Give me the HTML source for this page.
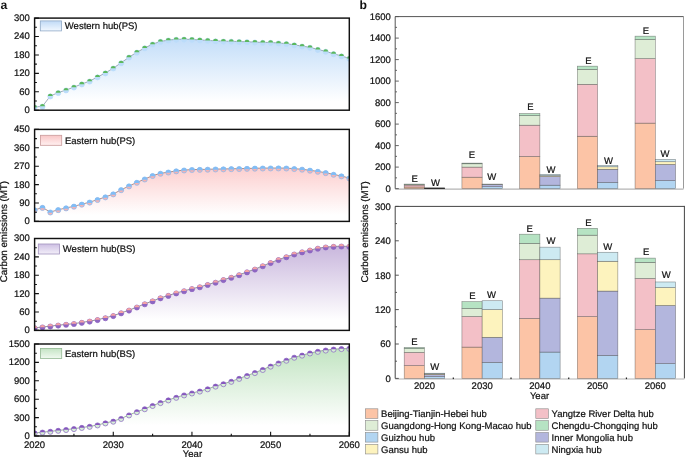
<!DOCTYPE html>
<html><head><meta charset="utf-8"><title>Carbon emissions</title>
<style>
html,body{margin:0;padding:0;background:#fff;}
body{width:685px;height:457px;overflow:hidden;font-family:"Liberation Sans", sans-serif;}
svg{display:block;will-change:transform;}
text{stroke:#111;stroke-width:0.22px;}
</style></head><body>
<svg width="685" height="457" viewBox="0 0 685 457" font-family='"Liberation Sans", sans-serif' font-size="9.5" fill="#111" text-rendering="geometricPrecision"><defs><linearGradient id="g0" gradientUnits="userSpaceOnUse" x1="0" y1="39.19" x2="0" y2="110.20"><stop offset="0" stop-color="#c4def9"/><stop offset="0.88" stop-color="#ffffff"/></linearGradient><linearGradient id="s0" x1="0" y1="0" x2="0" y2="1"><stop offset="0" stop-color="#c0daf6"/><stop offset="1" stop-color="#f2f8ff"/></linearGradient><clipPath id="c0"><rect x="34.6" y="18.1" width="314.7" height="92.1"/></clipPath><linearGradient id="g1" gradientUnits="userSpaceOnUse" x1="0" y1="168.04" x2="0" y2="221.40"><stop offset="0" stop-color="#fccfcf"/><stop offset="0.88" stop-color="#ffffff"/></linearGradient><linearGradient id="s1" x1="0" y1="0" x2="0" y2="1"><stop offset="0" stop-color="#f9c6c6"/><stop offset="1" stop-color="#fff0f0"/></linearGradient><clipPath id="c1"><rect x="34.6" y="129.4" width="314.7" height="92.0"/></clipPath><linearGradient id="g2" gradientUnits="userSpaceOnUse" x1="0" y1="246.16" x2="0" y2="330.40"><stop offset="0" stop-color="#c9b7dd"/><stop offset="0.88" stop-color="#ffffff"/></linearGradient><linearGradient id="s2" x1="0" y1="0" x2="0" y2="1"><stop offset="0" stop-color="#cdbfe3"/><stop offset="1" stop-color="#f3eff9"/></linearGradient><clipPath id="c2"><rect x="34.6" y="238.5" width="314.7" height="91.89999999999998"/></clipPath><linearGradient id="g3" gradientUnits="userSpaceOnUse" x1="0" y1="348.48" x2="0" y2="436.00"><stop offset="0" stop-color="#c2e4c2"/><stop offset="0.88" stop-color="#ffffff"/></linearGradient><linearGradient id="s3" x1="0" y1="0" x2="0" y2="1"><stop offset="0" stop-color="#c4e4c4"/><stop offset="1" stop-color="#f0f9f0"/></linearGradient><clipPath id="c3"><rect x="34.6" y="344.0" width="314.7" height="92.0"/></clipPath></defs><path d="M34.60,110.20 L34.60,107.13 L42.47,106.24 L50.34,96.02 L58.20,92.64 L66.07,90.03 L73.94,87.11 L81.81,84.04 L89.67,81.13 L97.54,76.98 L105.41,72.99 L113.28,68.08 L121.14,62.86 L129.01,57.15 L136.88,52.24 L144.75,47.94 L152.61,44.07 L160.48,41.49 L168.35,40.08 L176.21,39.34 L184.08,39.19 L191.95,39.47 L199.82,39.96 L207.68,40.39 L215.55,40.88 L223.42,41.19 L231.29,41.28 L239.16,41.59 L247.02,41.80 L254.89,42.11 L262.76,42.41 L270.62,42.48 L278.49,43.03 L286.36,43.64 L294.23,44.87 L302.10,46.10 L309.96,47.33 L317.83,49.48 L325.70,51.32 L333.57,53.77 L341.43,55.92 L349.30,58.38 L349.30,110.20 Z" fill="url(#g0)" clip-path="url(#c0)"/>
<path d="M34.60,107.13 L42.47,106.24 L50.34,96.02 L58.20,92.64 L66.07,90.03 L73.94,87.11 L81.81,84.04 L89.67,81.13 L97.54,76.98 L105.41,72.99 L113.28,68.08 L121.14,62.86 L129.01,57.15 L136.88,52.24 L144.75,47.94 L152.61,44.07 L160.48,41.49 L168.35,40.08 L176.21,39.34 L184.08,39.19 L191.95,39.47 L199.82,39.96 L207.68,40.39 L215.55,40.88 L223.42,41.19 L231.29,41.28 L239.16,41.59 L247.02,41.80 L254.89,42.11 L262.76,42.41 L270.62,42.48 L278.49,43.03 L286.36,43.64 L294.23,44.87 L302.10,46.10 L309.96,47.33 L317.83,49.48 L325.70,51.32 L333.57,53.77 L341.43,55.92 L349.30,58.38" fill="none" stroke="#94a2b2" stroke-width="0.9" clip-path="url(#c0)"/>
<g clip-path="url(#c0)"><circle cx="34.60" cy="107.53" r="2.55" fill="#bcdcfa" stroke="#bcdcfa" stroke-width="0.7"/><path d="M32.07,107.23 A2.55,2.55 0 0 1 37.13,107.23 Z" fill="#5cb85c"/><circle cx="42.47" cy="106.64" r="2.55" fill="#bcdcfa" stroke="#bcdcfa" stroke-width="0.7"/><path d="M39.94,106.34 A2.55,2.55 0 0 1 45.00,106.34 Z" fill="#5cb85c"/><circle cx="50.34" cy="96.42" r="2.55" fill="#bcdcfa" stroke="#bcdcfa" stroke-width="0.7"/><path d="M47.80,96.12 A2.55,2.55 0 0 1 52.87,96.12 Z" fill="#5cb85c"/><circle cx="58.20" cy="93.04" r="2.55" fill="#bcdcfa" stroke="#bcdcfa" stroke-width="0.7"/><path d="M55.67,92.74 A2.55,2.55 0 0 1 60.73,92.74 Z" fill="#5cb85c"/><circle cx="66.07" cy="90.43" r="2.55" fill="#bcdcfa" stroke="#bcdcfa" stroke-width="0.7"/><path d="M63.54,90.13 A2.55,2.55 0 0 1 68.60,90.13 Z" fill="#5cb85c"/><circle cx="73.94" cy="87.51" r="2.55" fill="#bcdcfa" stroke="#bcdcfa" stroke-width="0.7"/><path d="M71.41,87.21 A2.55,2.55 0 0 1 76.47,87.21 Z" fill="#5cb85c"/><circle cx="81.81" cy="84.44" r="2.55" fill="#bcdcfa" stroke="#bcdcfa" stroke-width="0.7"/><path d="M79.27,84.14 A2.55,2.55 0 0 1 84.34,84.14 Z" fill="#5cb85c"/><circle cx="89.67" cy="81.53" r="2.55" fill="#bcdcfa" stroke="#bcdcfa" stroke-width="0.7"/><path d="M87.14,81.23 A2.55,2.55 0 0 1 92.20,81.23 Z" fill="#5cb85c"/><circle cx="97.54" cy="77.38" r="2.55" fill="#bcdcfa" stroke="#bcdcfa" stroke-width="0.7"/><path d="M95.01,77.08 A2.55,2.55 0 0 1 100.07,77.08 Z" fill="#5cb85c"/><circle cx="105.41" cy="73.39" r="2.55" fill="#bcdcfa" stroke="#bcdcfa" stroke-width="0.7"/><path d="M102.88,73.09 A2.55,2.55 0 0 1 107.94,73.09 Z" fill="#5cb85c"/><circle cx="113.28" cy="68.48" r="2.55" fill="#bcdcfa" stroke="#bcdcfa" stroke-width="0.7"/><path d="M110.74,68.18 A2.55,2.55 0 0 1 115.81,68.18 Z" fill="#5cb85c"/><circle cx="121.14" cy="63.26" r="2.55" fill="#bcdcfa" stroke="#bcdcfa" stroke-width="0.7"/><path d="M118.61,62.96 A2.55,2.55 0 0 1 123.67,62.96 Z" fill="#5cb85c"/><circle cx="129.01" cy="57.55" r="2.55" fill="#bcdcfa" stroke="#bcdcfa" stroke-width="0.7"/><path d="M126.48,57.25 A2.55,2.55 0 0 1 131.54,57.25 Z" fill="#5cb85c"/><circle cx="136.88" cy="52.64" r="2.55" fill="#bcdcfa" stroke="#bcdcfa" stroke-width="0.7"/><path d="M134.35,52.34 A2.55,2.55 0 0 1 139.41,52.34 Z" fill="#5cb85c"/><circle cx="144.75" cy="48.34" r="2.55" fill="#bcdcfa" stroke="#bcdcfa" stroke-width="0.7"/><path d="M142.21,48.04 A2.55,2.55 0 0 1 147.28,48.04 Z" fill="#5cb85c"/><circle cx="152.61" cy="44.47" r="2.55" fill="#bcdcfa" stroke="#bcdcfa" stroke-width="0.7"/><path d="M150.08,44.17 A2.55,2.55 0 0 1 155.14,44.17 Z" fill="#5cb85c"/><circle cx="160.48" cy="41.89" r="2.55" fill="#bcdcfa" stroke="#bcdcfa" stroke-width="0.7"/><path d="M157.95,41.59 A2.55,2.55 0 0 1 163.01,41.59 Z" fill="#5cb85c"/><circle cx="168.35" cy="40.48" r="2.55" fill="#bcdcfa" stroke="#bcdcfa" stroke-width="0.7"/><path d="M165.82,40.18 A2.55,2.55 0 0 1 170.88,40.18 Z" fill="#5cb85c"/><circle cx="176.21" cy="39.74" r="2.55" fill="#bcdcfa" stroke="#bcdcfa" stroke-width="0.7"/><path d="M173.68,39.44 A2.55,2.55 0 0 1 178.75,39.44 Z" fill="#5cb85c"/><circle cx="184.08" cy="39.59" r="2.55" fill="#bcdcfa" stroke="#bcdcfa" stroke-width="0.7"/><path d="M181.55,39.29 A2.55,2.55 0 0 1 186.61,39.29 Z" fill="#5cb85c"/><circle cx="191.95" cy="39.87" r="2.55" fill="#bcdcfa" stroke="#bcdcfa" stroke-width="0.7"/><path d="M189.42,39.57 A2.55,2.55 0 0 1 194.48,39.57 Z" fill="#5cb85c"/><circle cx="199.82" cy="40.36" r="2.55" fill="#bcdcfa" stroke="#bcdcfa" stroke-width="0.7"/><path d="M197.29,40.06 A2.55,2.55 0 0 1 202.35,40.06 Z" fill="#5cb85c"/><circle cx="207.68" cy="40.79" r="2.55" fill="#bcdcfa" stroke="#bcdcfa" stroke-width="0.7"/><path d="M205.15,40.49 A2.55,2.55 0 0 1 210.22,40.49 Z" fill="#5cb85c"/><circle cx="215.55" cy="41.28" r="2.55" fill="#bcdcfa" stroke="#bcdcfa" stroke-width="0.7"/><path d="M213.02,40.98 A2.55,2.55 0 0 1 218.08,40.98 Z" fill="#5cb85c"/><circle cx="223.42" cy="41.59" r="2.55" fill="#bcdcfa" stroke="#bcdcfa" stroke-width="0.7"/><path d="M220.89,41.29 A2.55,2.55 0 0 1 225.95,41.29 Z" fill="#5cb85c"/><circle cx="231.29" cy="41.68" r="2.55" fill="#bcdcfa" stroke="#bcdcfa" stroke-width="0.7"/><path d="M228.76,41.38 A2.55,2.55 0 0 1 233.82,41.38 Z" fill="#5cb85c"/><circle cx="239.16" cy="41.99" r="2.55" fill="#bcdcfa" stroke="#bcdcfa" stroke-width="0.7"/><path d="M236.62,41.69 A2.55,2.55 0 0 1 241.69,41.69 Z" fill="#5cb85c"/><circle cx="247.02" cy="42.20" r="2.55" fill="#bcdcfa" stroke="#bcdcfa" stroke-width="0.7"/><path d="M244.49,41.90 A2.55,2.55 0 0 1 249.55,41.90 Z" fill="#5cb85c"/><circle cx="254.89" cy="42.51" r="2.55" fill="#bcdcfa" stroke="#bcdcfa" stroke-width="0.7"/><path d="M252.36,42.21 A2.55,2.55 0 0 1 257.42,42.21 Z" fill="#5cb85c"/><circle cx="262.76" cy="42.81" r="2.55" fill="#bcdcfa" stroke="#bcdcfa" stroke-width="0.7"/><path d="M260.23,42.51 A2.55,2.55 0 0 1 265.29,42.51 Z" fill="#5cb85c"/><circle cx="270.62" cy="42.88" r="2.55" fill="#bcdcfa" stroke="#bcdcfa" stroke-width="0.7"/><path d="M268.09,42.58 A2.55,2.55 0 0 1 273.16,42.58 Z" fill="#5cb85c"/><circle cx="278.49" cy="43.43" r="2.55" fill="#bcdcfa" stroke="#bcdcfa" stroke-width="0.7"/><path d="M275.96,43.13 A2.55,2.55 0 0 1 281.02,43.13 Z" fill="#5cb85c"/><circle cx="286.36" cy="44.04" r="2.55" fill="#bcdcfa" stroke="#bcdcfa" stroke-width="0.7"/><path d="M283.83,43.74 A2.55,2.55 0 0 1 288.89,43.74 Z" fill="#5cb85c"/><circle cx="294.23" cy="45.27" r="2.55" fill="#bcdcfa" stroke="#bcdcfa" stroke-width="0.7"/><path d="M291.70,44.97 A2.55,2.55 0 0 1 296.76,44.97 Z" fill="#5cb85c"/><circle cx="302.10" cy="46.50" r="2.55" fill="#bcdcfa" stroke="#bcdcfa" stroke-width="0.7"/><path d="M299.56,46.20 A2.55,2.55 0 0 1 304.63,46.20 Z" fill="#5cb85c"/><circle cx="309.96" cy="47.73" r="2.55" fill="#bcdcfa" stroke="#bcdcfa" stroke-width="0.7"/><path d="M307.43,47.43 A2.55,2.55 0 0 1 312.49,47.43 Z" fill="#5cb85c"/><circle cx="317.83" cy="49.88" r="2.55" fill="#bcdcfa" stroke="#bcdcfa" stroke-width="0.7"/><path d="M315.30,49.58 A2.55,2.55 0 0 1 320.36,49.58 Z" fill="#5cb85c"/><circle cx="325.70" cy="51.72" r="2.55" fill="#bcdcfa" stroke="#bcdcfa" stroke-width="0.7"/><path d="M323.17,51.42 A2.55,2.55 0 0 1 328.23,51.42 Z" fill="#5cb85c"/><circle cx="333.57" cy="54.17" r="2.55" fill="#bcdcfa" stroke="#bcdcfa" stroke-width="0.7"/><path d="M331.03,53.87 A2.55,2.55 0 0 1 336.10,53.87 Z" fill="#5cb85c"/><circle cx="341.43" cy="56.32" r="2.55" fill="#bcdcfa" stroke="#bcdcfa" stroke-width="0.7"/><path d="M338.90,56.02 A2.55,2.55 0 0 1 343.96,56.02 Z" fill="#5cb85c"/><circle cx="349.30" cy="58.78" r="2.55" fill="#bcdcfa" stroke="#bcdcfa" stroke-width="0.7"/><path d="M346.77,58.48 A2.55,2.55 0 0 1 351.83,58.48 Z" fill="#5cb85c"/></g>
<rect x="34.6" y="18.1" width="314.7" height="92.1" fill="none" stroke="#111" stroke-width="1.45"/>
<text x="29.80" y="113.10" text-anchor="end">0</text>
<text x="29.80" y="94.68" text-anchor="end">60</text>
<text x="29.80" y="76.26" text-anchor="end">120</text>
<text x="29.80" y="57.84" text-anchor="end">180</text>
<text x="29.80" y="39.42" text-anchor="end">240</text>
<text x="29.80" y="21.00" text-anchor="end">300</text>
<path d="M34.60,110.20h4.3 M34.60,100.99h2.3 M34.60,91.78h4.3 M34.60,82.57h2.3 M34.60,73.36h4.3 M34.60,64.15h2.3 M34.60,54.94h4.3 M34.60,45.73h2.3 M34.60,36.52h4.3 M34.60,27.31h2.3 M34.60,18.10h4.3" stroke="#111" stroke-width="1.1" fill="none"/>
<rect x="40.30" y="20.90" width="21.2" height="10.0" fill="url(#s0)" stroke="#8fa9c6" stroke-width="0.8"/>
<text x="64.80" y="29.30">Western hub(PS)</text>
<path d="M34.60,221.40 L34.60,209.95 L42.47,207.50 L50.34,212.10 L58.20,209.75 L66.07,207.99 L73.94,206.27 L81.81,204.23 L89.67,202.18 L97.54,199.61 L105.41,196.97 L113.28,194.00 L121.14,189.79 L129.01,186.03 L136.88,182.41 L144.75,179.08 L152.61,175.60 L160.48,173.36 L168.35,172.13 L176.21,170.98 L184.08,170.08 L191.95,169.59 L199.82,169.47 L207.68,169.27 L215.55,169.06 L223.42,168.96 L231.29,168.76 L239.16,168.65 L247.02,168.45 L254.89,168.24 L262.76,168.12 L270.62,168.04 L278.49,168.04 L286.36,168.12 L294.23,168.65 L302.10,169.27 L309.96,170.29 L317.83,171.39 L325.70,172.74 L333.57,174.38 L341.43,176.01 L349.30,178.06 L349.30,221.40 Z" fill="url(#g1)" clip-path="url(#c1)"/>
<path d="M34.60,209.95 L42.47,207.50 L50.34,212.10 L58.20,209.75 L66.07,207.99 L73.94,206.27 L81.81,204.23 L89.67,202.18 L97.54,199.61 L105.41,196.97 L113.28,194.00 L121.14,189.79 L129.01,186.03 L136.88,182.41 L144.75,179.08 L152.61,175.60 L160.48,173.36 L168.35,172.13 L176.21,170.98 L184.08,170.08 L191.95,169.59 L199.82,169.47 L207.68,169.27 L215.55,169.06 L223.42,168.96 L231.29,168.76 L239.16,168.65 L247.02,168.45 L254.89,168.24 L262.76,168.12 L270.62,168.04 L278.49,168.04 L286.36,168.12 L294.23,168.65 L302.10,169.27 L309.96,170.29 L317.83,171.39 L325.70,172.74 L333.57,174.38 L341.43,176.01 L349.30,178.06" fill="none" stroke="#a88580" stroke-width="0.9" clip-path="url(#c1)"/>
<g clip-path="url(#c1)"><circle cx="34.60" cy="210.35" r="2.55" fill="#f6b2b2" stroke="#80bdf6" stroke-width="0.7"/><path d="M32.07,210.65 A2.55,2.55 0 1 1 37.13,210.65 Z" fill="#80bdf6"/><circle cx="42.47" cy="207.90" r="2.55" fill="#f6b2b2" stroke="#80bdf6" stroke-width="0.7"/><path d="M39.94,208.20 A2.55,2.55 0 1 1 45.00,208.20 Z" fill="#80bdf6"/><circle cx="50.34" cy="212.50" r="2.55" fill="#f6b2b2" stroke="#80bdf6" stroke-width="0.7"/><path d="M47.80,212.80 A2.55,2.55 0 1 1 52.87,212.80 Z" fill="#80bdf6"/><circle cx="58.20" cy="210.15" r="2.55" fill="#f6b2b2" stroke="#80bdf6" stroke-width="0.7"/><path d="M55.67,210.45 A2.55,2.55 0 1 1 60.73,210.45 Z" fill="#80bdf6"/><circle cx="66.07" cy="208.39" r="2.55" fill="#f6b2b2" stroke="#80bdf6" stroke-width="0.7"/><path d="M63.54,208.69 A2.55,2.55 0 1 1 68.60,208.69 Z" fill="#80bdf6"/><circle cx="73.94" cy="206.67" r="2.55" fill="#f6b2b2" stroke="#80bdf6" stroke-width="0.7"/><path d="M71.41,206.97 A2.55,2.55 0 1 1 76.47,206.97 Z" fill="#80bdf6"/><circle cx="81.81" cy="204.63" r="2.55" fill="#f6b2b2" stroke="#80bdf6" stroke-width="0.7"/><path d="M79.27,204.93 A2.55,2.55 0 1 1 84.34,204.93 Z" fill="#80bdf6"/><circle cx="89.67" cy="202.58" r="2.55" fill="#f6b2b2" stroke="#80bdf6" stroke-width="0.7"/><path d="M87.14,202.88 A2.55,2.55 0 1 1 92.20,202.88 Z" fill="#80bdf6"/><circle cx="97.54" cy="200.01" r="2.55" fill="#f6b2b2" stroke="#80bdf6" stroke-width="0.7"/><path d="M95.01,200.31 A2.55,2.55 0 1 1 100.07,200.31 Z" fill="#80bdf6"/><circle cx="105.41" cy="197.37" r="2.55" fill="#f6b2b2" stroke="#80bdf6" stroke-width="0.7"/><path d="M102.88,197.67 A2.55,2.55 0 1 1 107.94,197.67 Z" fill="#80bdf6"/><circle cx="113.28" cy="194.40" r="2.55" fill="#f6b2b2" stroke="#80bdf6" stroke-width="0.7"/><path d="M110.74,194.70 A2.55,2.55 0 1 1 115.81,194.70 Z" fill="#80bdf6"/><circle cx="121.14" cy="190.19" r="2.55" fill="#f6b2b2" stroke="#80bdf6" stroke-width="0.7"/><path d="M118.61,190.49 A2.55,2.55 0 1 1 123.67,190.49 Z" fill="#80bdf6"/><circle cx="129.01" cy="186.43" r="2.55" fill="#f6b2b2" stroke="#80bdf6" stroke-width="0.7"/><path d="M126.48,186.73 A2.55,2.55 0 1 1 131.54,186.73 Z" fill="#80bdf6"/><circle cx="136.88" cy="182.81" r="2.55" fill="#f6b2b2" stroke="#80bdf6" stroke-width="0.7"/><path d="M134.35,183.11 A2.55,2.55 0 1 1 139.41,183.11 Z" fill="#80bdf6"/><circle cx="144.75" cy="179.48" r="2.55" fill="#f6b2b2" stroke="#80bdf6" stroke-width="0.7"/><path d="M142.21,179.78 A2.55,2.55 0 1 1 147.28,179.78 Z" fill="#80bdf6"/><circle cx="152.61" cy="176.00" r="2.55" fill="#f6b2b2" stroke="#80bdf6" stroke-width="0.7"/><path d="M150.08,176.30 A2.55,2.55 0 1 1 155.14,176.30 Z" fill="#80bdf6"/><circle cx="160.48" cy="173.76" r="2.55" fill="#f6b2b2" stroke="#80bdf6" stroke-width="0.7"/><path d="M157.95,174.06 A2.55,2.55 0 1 1 163.01,174.06 Z" fill="#80bdf6"/><circle cx="168.35" cy="172.53" r="2.55" fill="#f6b2b2" stroke="#80bdf6" stroke-width="0.7"/><path d="M165.82,172.83 A2.55,2.55 0 1 1 170.88,172.83 Z" fill="#80bdf6"/><circle cx="176.21" cy="171.38" r="2.55" fill="#f6b2b2" stroke="#80bdf6" stroke-width="0.7"/><path d="M173.68,171.68 A2.55,2.55 0 1 1 178.75,171.68 Z" fill="#80bdf6"/><circle cx="184.08" cy="170.48" r="2.55" fill="#f6b2b2" stroke="#80bdf6" stroke-width="0.7"/><path d="M181.55,170.78 A2.55,2.55 0 1 1 186.61,170.78 Z" fill="#80bdf6"/><circle cx="191.95" cy="169.99" r="2.55" fill="#f6b2b2" stroke="#80bdf6" stroke-width="0.7"/><path d="M189.42,170.29 A2.55,2.55 0 1 1 194.48,170.29 Z" fill="#80bdf6"/><circle cx="199.82" cy="169.87" r="2.55" fill="#f6b2b2" stroke="#80bdf6" stroke-width="0.7"/><path d="M197.29,170.17 A2.55,2.55 0 1 1 202.35,170.17 Z" fill="#80bdf6"/><circle cx="207.68" cy="169.67" r="2.55" fill="#f6b2b2" stroke="#80bdf6" stroke-width="0.7"/><path d="M205.15,169.97 A2.55,2.55 0 1 1 210.22,169.97 Z" fill="#80bdf6"/><circle cx="215.55" cy="169.46" r="2.55" fill="#f6b2b2" stroke="#80bdf6" stroke-width="0.7"/><path d="M213.02,169.76 A2.55,2.55 0 1 1 218.08,169.76 Z" fill="#80bdf6"/><circle cx="223.42" cy="169.36" r="2.55" fill="#f6b2b2" stroke="#80bdf6" stroke-width="0.7"/><path d="M220.89,169.66 A2.55,2.55 0 1 1 225.95,169.66 Z" fill="#80bdf6"/><circle cx="231.29" cy="169.16" r="2.55" fill="#f6b2b2" stroke="#80bdf6" stroke-width="0.7"/><path d="M228.76,169.46 A2.55,2.55 0 1 1 233.82,169.46 Z" fill="#80bdf6"/><circle cx="239.16" cy="169.05" r="2.55" fill="#f6b2b2" stroke="#80bdf6" stroke-width="0.7"/><path d="M236.62,169.35 A2.55,2.55 0 1 1 241.69,169.35 Z" fill="#80bdf6"/><circle cx="247.02" cy="168.85" r="2.55" fill="#f6b2b2" stroke="#80bdf6" stroke-width="0.7"/><path d="M244.49,169.15 A2.55,2.55 0 1 1 249.55,169.15 Z" fill="#80bdf6"/><circle cx="254.89" cy="168.64" r="2.55" fill="#f6b2b2" stroke="#80bdf6" stroke-width="0.7"/><path d="M252.36,168.94 A2.55,2.55 0 1 1 257.42,168.94 Z" fill="#80bdf6"/><circle cx="262.76" cy="168.52" r="2.55" fill="#f6b2b2" stroke="#80bdf6" stroke-width="0.7"/><path d="M260.23,168.82 A2.55,2.55 0 1 1 265.29,168.82 Z" fill="#80bdf6"/><circle cx="270.62" cy="168.44" r="2.55" fill="#f6b2b2" stroke="#80bdf6" stroke-width="0.7"/><path d="M268.09,168.74 A2.55,2.55 0 1 1 273.16,168.74 Z" fill="#80bdf6"/><circle cx="278.49" cy="168.44" r="2.55" fill="#f6b2b2" stroke="#80bdf6" stroke-width="0.7"/><path d="M275.96,168.74 A2.55,2.55 0 1 1 281.02,168.74 Z" fill="#80bdf6"/><circle cx="286.36" cy="168.52" r="2.55" fill="#f6b2b2" stroke="#80bdf6" stroke-width="0.7"/><path d="M283.83,168.82 A2.55,2.55 0 1 1 288.89,168.82 Z" fill="#80bdf6"/><circle cx="294.23" cy="169.05" r="2.55" fill="#f6b2b2" stroke="#80bdf6" stroke-width="0.7"/><path d="M291.70,169.35 A2.55,2.55 0 1 1 296.76,169.35 Z" fill="#80bdf6"/><circle cx="302.10" cy="169.67" r="2.55" fill="#f6b2b2" stroke="#80bdf6" stroke-width="0.7"/><path d="M299.56,169.97 A2.55,2.55 0 1 1 304.63,169.97 Z" fill="#80bdf6"/><circle cx="309.96" cy="170.69" r="2.55" fill="#f6b2b2" stroke="#80bdf6" stroke-width="0.7"/><path d="M307.43,170.99 A2.55,2.55 0 1 1 312.49,170.99 Z" fill="#80bdf6"/><circle cx="317.83" cy="171.79" r="2.55" fill="#f6b2b2" stroke="#80bdf6" stroke-width="0.7"/><path d="M315.30,172.09 A2.55,2.55 0 1 1 320.36,172.09 Z" fill="#80bdf6"/><circle cx="325.70" cy="173.14" r="2.55" fill="#f6b2b2" stroke="#80bdf6" stroke-width="0.7"/><path d="M323.17,173.44 A2.55,2.55 0 1 1 328.23,173.44 Z" fill="#80bdf6"/><circle cx="333.57" cy="174.78" r="2.55" fill="#f6b2b2" stroke="#80bdf6" stroke-width="0.7"/><path d="M331.03,175.08 A2.55,2.55 0 1 1 336.10,175.08 Z" fill="#80bdf6"/><circle cx="341.43" cy="176.41" r="2.55" fill="#f6b2b2" stroke="#80bdf6" stroke-width="0.7"/><path d="M338.90,176.71 A2.55,2.55 0 1 1 343.96,176.71 Z" fill="#80bdf6"/><circle cx="349.30" cy="178.46" r="2.55" fill="#f6b2b2" stroke="#80bdf6" stroke-width="0.7"/><path d="M346.77,178.76 A2.55,2.55 0 1 1 351.83,178.76 Z" fill="#80bdf6"/></g>
<rect x="34.6" y="129.4" width="314.7" height="92.0" fill="none" stroke="#111" stroke-width="1.45"/>
<text x="29.80" y="224.30" text-anchor="end">0</text>
<text x="29.80" y="205.90" text-anchor="end">90</text>
<text x="29.80" y="187.50" text-anchor="end">180</text>
<text x="29.80" y="169.10" text-anchor="end">270</text>
<text x="29.80" y="150.70" text-anchor="end">360</text>
<text x="29.80" y="132.30" text-anchor="end">450</text>
<path d="M34.60,221.40h4.3 M34.60,212.20h2.3 M34.60,203.00h4.3 M34.60,193.80h2.3 M34.60,184.60h4.3 M34.60,175.40h2.3 M34.60,166.20h4.3 M34.60,157.00h2.3 M34.60,147.80h4.3 M34.60,138.60h2.3 M34.60,129.40h4.3" stroke="#111" stroke-width="1.1" fill="none"/>
<rect x="40.50" y="135.30" width="21.2" height="10.0" fill="url(#s1)" stroke="#c99b9b" stroke-width="0.8"/>
<text x="65.00" y="143.70">Eastern hub(PS)</text>
<path d="M34.60,330.40 L34.60,327.80 L42.47,327.03 L50.34,326.11 L58.20,325.19 L66.07,324.40 L73.94,323.66 L81.81,322.44 L89.67,321.21 L97.54,319.68 L105.41,317.84 L113.28,315.70 L121.14,312.94 L129.01,310.18 L136.88,307.12 L144.75,303.90 L152.61,300.99 L160.48,297.93 L168.35,295.48 L176.21,293.03 L184.08,290.88 L191.95,288.74 L199.82,286.90 L207.68,284.60 L215.55,282.31 L223.42,279.70 L231.29,277.40 L239.16,274.80 L247.02,271.98 L254.89,269.19 L262.76,265.89 L270.62,262.70 L278.49,259.70 L286.36,256.88 L294.23,254.12 L302.10,251.98 L309.96,250.14 L317.83,248.30 L325.70,247.08 L333.57,246.46 L341.43,246.16 L349.30,246.46 L349.30,330.40 Z" fill="url(#g2)" clip-path="url(#c2)"/>
<path d="M34.60,327.80 L42.47,327.03 L50.34,326.11 L58.20,325.19 L66.07,324.40 L73.94,323.66 L81.81,322.44 L89.67,321.21 L97.54,319.68 L105.41,317.84 L113.28,315.70 L121.14,312.94 L129.01,310.18 L136.88,307.12 L144.75,303.90 L152.61,300.99 L160.48,297.93 L168.35,295.48 L176.21,293.03 L184.08,290.88 L191.95,288.74 L199.82,286.90 L207.68,284.60 L215.55,282.31 L223.42,279.70 L231.29,277.40 L239.16,274.80 L247.02,271.98 L254.89,269.19 L262.76,265.89 L270.62,262.70 L278.49,259.70 L286.36,256.88 L294.23,254.12 L302.10,251.98 L309.96,250.14 L317.83,248.30 L325.70,247.08 L333.57,246.46 L341.43,246.16 L349.30,246.46" fill="none" stroke="#8a8a8a" stroke-width="0.9" clip-path="url(#c2)"/>
<g clip-path="url(#c2)"><circle cx="34.60" cy="328.20" r="2.55" fill="#8e66c2" stroke="#8e66c2" stroke-width="0.7"/><path d="M32.07,327.90 A2.55,2.55 0 0 1 37.13,327.90 Z" fill="#f4a2a4"/><circle cx="42.47" cy="327.43" r="2.55" fill="#8e66c2" stroke="#8e66c2" stroke-width="0.7"/><path d="M39.94,327.13 A2.55,2.55 0 0 1 45.00,327.13 Z" fill="#f4a2a4"/><circle cx="50.34" cy="326.51" r="2.55" fill="#8e66c2" stroke="#8e66c2" stroke-width="0.7"/><path d="M47.80,326.21 A2.55,2.55 0 0 1 52.87,326.21 Z" fill="#f4a2a4"/><circle cx="58.20" cy="325.59" r="2.55" fill="#8e66c2" stroke="#8e66c2" stroke-width="0.7"/><path d="M55.67,325.29 A2.55,2.55 0 0 1 60.73,325.29 Z" fill="#f4a2a4"/><circle cx="66.07" cy="324.80" r="2.55" fill="#8e66c2" stroke="#8e66c2" stroke-width="0.7"/><path d="M63.54,324.50 A2.55,2.55 0 0 1 68.60,324.50 Z" fill="#f4a2a4"/><circle cx="73.94" cy="324.06" r="2.55" fill="#8e66c2" stroke="#8e66c2" stroke-width="0.7"/><path d="M71.41,323.76 A2.55,2.55 0 0 1 76.47,323.76 Z" fill="#f4a2a4"/><circle cx="81.81" cy="322.84" r="2.55" fill="#8e66c2" stroke="#8e66c2" stroke-width="0.7"/><path d="M79.27,322.54 A2.55,2.55 0 0 1 84.34,322.54 Z" fill="#f4a2a4"/><circle cx="89.67" cy="321.61" r="2.55" fill="#8e66c2" stroke="#8e66c2" stroke-width="0.7"/><path d="M87.14,321.31 A2.55,2.55 0 0 1 92.20,321.31 Z" fill="#f4a2a4"/><circle cx="97.54" cy="320.08" r="2.55" fill="#8e66c2" stroke="#8e66c2" stroke-width="0.7"/><path d="M95.01,319.78 A2.55,2.55 0 0 1 100.07,319.78 Z" fill="#f4a2a4"/><circle cx="105.41" cy="318.24" r="2.55" fill="#8e66c2" stroke="#8e66c2" stroke-width="0.7"/><path d="M102.88,317.94 A2.55,2.55 0 0 1 107.94,317.94 Z" fill="#f4a2a4"/><circle cx="113.28" cy="316.10" r="2.55" fill="#8e66c2" stroke="#8e66c2" stroke-width="0.7"/><path d="M110.74,315.80 A2.55,2.55 0 0 1 115.81,315.80 Z" fill="#f4a2a4"/><circle cx="121.14" cy="313.34" r="2.55" fill="#8e66c2" stroke="#8e66c2" stroke-width="0.7"/><path d="M118.61,313.04 A2.55,2.55 0 0 1 123.67,313.04 Z" fill="#f4a2a4"/><circle cx="129.01" cy="310.58" r="2.55" fill="#8e66c2" stroke="#8e66c2" stroke-width="0.7"/><path d="M126.48,310.28 A2.55,2.55 0 0 1 131.54,310.28 Z" fill="#f4a2a4"/><circle cx="136.88" cy="307.52" r="2.55" fill="#8e66c2" stroke="#8e66c2" stroke-width="0.7"/><path d="M134.35,307.22 A2.55,2.55 0 0 1 139.41,307.22 Z" fill="#f4a2a4"/><circle cx="144.75" cy="304.30" r="2.55" fill="#8e66c2" stroke="#8e66c2" stroke-width="0.7"/><path d="M142.21,304.00 A2.55,2.55 0 0 1 147.28,304.00 Z" fill="#f4a2a4"/><circle cx="152.61" cy="301.39" r="2.55" fill="#8e66c2" stroke="#8e66c2" stroke-width="0.7"/><path d="M150.08,301.09 A2.55,2.55 0 0 1 155.14,301.09 Z" fill="#f4a2a4"/><circle cx="160.48" cy="298.33" r="2.55" fill="#8e66c2" stroke="#8e66c2" stroke-width="0.7"/><path d="M157.95,298.03 A2.55,2.55 0 0 1 163.01,298.03 Z" fill="#f4a2a4"/><circle cx="168.35" cy="295.88" r="2.55" fill="#8e66c2" stroke="#8e66c2" stroke-width="0.7"/><path d="M165.82,295.58 A2.55,2.55 0 0 1 170.88,295.58 Z" fill="#f4a2a4"/><circle cx="176.21" cy="293.43" r="2.55" fill="#8e66c2" stroke="#8e66c2" stroke-width="0.7"/><path d="M173.68,293.13 A2.55,2.55 0 0 1 178.75,293.13 Z" fill="#f4a2a4"/><circle cx="184.08" cy="291.28" r="2.55" fill="#8e66c2" stroke="#8e66c2" stroke-width="0.7"/><path d="M181.55,290.98 A2.55,2.55 0 0 1 186.61,290.98 Z" fill="#f4a2a4"/><circle cx="191.95" cy="289.14" r="2.55" fill="#8e66c2" stroke="#8e66c2" stroke-width="0.7"/><path d="M189.42,288.84 A2.55,2.55 0 0 1 194.48,288.84 Z" fill="#f4a2a4"/><circle cx="199.82" cy="287.30" r="2.55" fill="#8e66c2" stroke="#8e66c2" stroke-width="0.7"/><path d="M197.29,287.00 A2.55,2.55 0 0 1 202.35,287.00 Z" fill="#f4a2a4"/><circle cx="207.68" cy="285.00" r="2.55" fill="#8e66c2" stroke="#8e66c2" stroke-width="0.7"/><path d="M205.15,284.70 A2.55,2.55 0 0 1 210.22,284.70 Z" fill="#f4a2a4"/><circle cx="215.55" cy="282.71" r="2.55" fill="#8e66c2" stroke="#8e66c2" stroke-width="0.7"/><path d="M213.02,282.41 A2.55,2.55 0 0 1 218.08,282.41 Z" fill="#f4a2a4"/><circle cx="223.42" cy="280.10" r="2.55" fill="#8e66c2" stroke="#8e66c2" stroke-width="0.7"/><path d="M220.89,279.80 A2.55,2.55 0 0 1 225.95,279.80 Z" fill="#f4a2a4"/><circle cx="231.29" cy="277.80" r="2.55" fill="#8e66c2" stroke="#8e66c2" stroke-width="0.7"/><path d="M228.76,277.50 A2.55,2.55 0 0 1 233.82,277.50 Z" fill="#f4a2a4"/><circle cx="239.16" cy="275.20" r="2.55" fill="#8e66c2" stroke="#8e66c2" stroke-width="0.7"/><path d="M236.62,274.90 A2.55,2.55 0 0 1 241.69,274.90 Z" fill="#f4a2a4"/><circle cx="247.02" cy="272.38" r="2.55" fill="#8e66c2" stroke="#8e66c2" stroke-width="0.7"/><path d="M244.49,272.08 A2.55,2.55 0 0 1 249.55,272.08 Z" fill="#f4a2a4"/><circle cx="254.89" cy="269.59" r="2.55" fill="#8e66c2" stroke="#8e66c2" stroke-width="0.7"/><path d="M252.36,269.29 A2.55,2.55 0 0 1 257.42,269.29 Z" fill="#f4a2a4"/><circle cx="262.76" cy="266.29" r="2.55" fill="#8e66c2" stroke="#8e66c2" stroke-width="0.7"/><path d="M260.23,265.99 A2.55,2.55 0 0 1 265.29,265.99 Z" fill="#f4a2a4"/><circle cx="270.62" cy="263.10" r="2.55" fill="#8e66c2" stroke="#8e66c2" stroke-width="0.7"/><path d="M268.09,262.80 A2.55,2.55 0 0 1 273.16,262.80 Z" fill="#f4a2a4"/><circle cx="278.49" cy="260.10" r="2.55" fill="#8e66c2" stroke="#8e66c2" stroke-width="0.7"/><path d="M275.96,259.80 A2.55,2.55 0 0 1 281.02,259.80 Z" fill="#f4a2a4"/><circle cx="286.36" cy="257.28" r="2.55" fill="#8e66c2" stroke="#8e66c2" stroke-width="0.7"/><path d="M283.83,256.98 A2.55,2.55 0 0 1 288.89,256.98 Z" fill="#f4a2a4"/><circle cx="294.23" cy="254.52" r="2.55" fill="#8e66c2" stroke="#8e66c2" stroke-width="0.7"/><path d="M291.70,254.22 A2.55,2.55 0 0 1 296.76,254.22 Z" fill="#f4a2a4"/><circle cx="302.10" cy="252.38" r="2.55" fill="#8e66c2" stroke="#8e66c2" stroke-width="0.7"/><path d="M299.56,252.08 A2.55,2.55 0 0 1 304.63,252.08 Z" fill="#f4a2a4"/><circle cx="309.96" cy="250.54" r="2.55" fill="#8e66c2" stroke="#8e66c2" stroke-width="0.7"/><path d="M307.43,250.24 A2.55,2.55 0 0 1 312.49,250.24 Z" fill="#f4a2a4"/><circle cx="317.83" cy="248.70" r="2.55" fill="#8e66c2" stroke="#8e66c2" stroke-width="0.7"/><path d="M315.30,248.40 A2.55,2.55 0 0 1 320.36,248.40 Z" fill="#f4a2a4"/><circle cx="325.70" cy="247.48" r="2.55" fill="#8e66c2" stroke="#8e66c2" stroke-width="0.7"/><path d="M323.17,247.18 A2.55,2.55 0 0 1 328.23,247.18 Z" fill="#f4a2a4"/><circle cx="333.57" cy="246.86" r="2.55" fill="#8e66c2" stroke="#8e66c2" stroke-width="0.7"/><path d="M331.03,246.56 A2.55,2.55 0 0 1 336.10,246.56 Z" fill="#f4a2a4"/><circle cx="341.43" cy="246.56" r="2.55" fill="#8e66c2" stroke="#8e66c2" stroke-width="0.7"/><path d="M338.90,246.26 A2.55,2.55 0 0 1 343.96,246.26 Z" fill="#f4a2a4"/><circle cx="349.30" cy="246.86" r="2.55" fill="#8e66c2" stroke="#8e66c2" stroke-width="0.7"/><path d="M346.77,246.56 A2.55,2.55 0 0 1 351.83,246.56 Z" fill="#f4a2a4"/></g>
<rect x="34.6" y="238.5" width="314.7" height="91.89999999999998" fill="none" stroke="#111" stroke-width="1.45"/>
<text x="29.80" y="333.30" text-anchor="end">0</text>
<text x="29.80" y="314.92" text-anchor="end">60</text>
<text x="29.80" y="296.54" text-anchor="end">120</text>
<text x="29.80" y="278.16" text-anchor="end">180</text>
<text x="29.80" y="259.78" text-anchor="end">240</text>
<text x="29.80" y="241.40" text-anchor="end">300</text>
<path d="M34.60,330.40h4.3 M34.60,321.21h2.3 M34.60,312.02h4.3 M34.60,302.83h2.3 M34.60,293.64h4.3 M34.60,284.45h2.3 M34.60,275.26h4.3 M34.60,266.07h2.3 M34.60,256.88h4.3 M34.60,247.69h2.3 M34.60,238.50h4.3" stroke="#111" stroke-width="1.1" fill="none"/>
<rect x="38.30" y="244.00" width="21.2" height="10.0" fill="url(#s2)" stroke="#a293bd" stroke-width="0.8"/>
<text x="62.80" y="252.40">Western hub(BS)</text>
<path d="M34.60,436.00 L34.60,432.99 L42.47,432.20 L50.34,431.40 L58.20,430.42 L66.07,429.62 L73.94,428.70 L81.81,427.54 L89.67,426.43 L97.54,425.02 L105.41,423.00 L113.28,421.28 L121.14,418.52 L129.01,415.02 L136.88,411.77 L144.75,408.83 L152.61,405.58 L160.48,402.70 L168.35,400.00 L176.21,397.42 L184.08,395.03 L191.95,393.07 L199.82,391.17 L207.68,388.90 L215.55,386.20 L223.42,383.81 L231.29,381.41 L239.16,378.47 L247.02,375.65 L254.89,372.70 L262.76,369.58 L270.62,366.20 L278.49,363.07 L286.36,360.31 L294.23,357.31 L302.10,355.22 L309.96,353.08 L317.83,351.42 L325.70,350.13 L333.57,349.21 L341.43,348.66 L349.30,348.48 L349.30,436.00 Z" fill="url(#g3)" clip-path="url(#c3)"/>
<path d="M34.60,432.99 L42.47,432.20 L50.34,431.40 L58.20,430.42 L66.07,429.62 L73.94,428.70 L81.81,427.54 L89.67,426.43 L97.54,425.02 L105.41,423.00 L113.28,421.28 L121.14,418.52 L129.01,415.02 L136.88,411.77 L144.75,408.83 L152.61,405.58 L160.48,402.70 L168.35,400.00 L176.21,397.42 L184.08,395.03 L191.95,393.07 L199.82,391.17 L207.68,388.90 L215.55,386.20 L223.42,383.81 L231.29,381.41 L239.16,378.47 L247.02,375.65 L254.89,372.70 L262.76,369.58 L270.62,366.20 L278.49,363.07 L286.36,360.31 L294.23,357.31 L302.10,355.22 L309.96,353.08 L317.83,351.42 L325.70,350.13 L333.57,349.21 L341.43,348.66 L349.30,348.48" fill="none" stroke="#8fae8f" stroke-width="0.9" clip-path="url(#c3)"/>
<g clip-path="url(#c3)"><circle cx="34.60" cy="433.39" r="2.55" fill="#d6efd6" stroke="#8a62c4" stroke-width="0.7"/><path d="M32.07,433.09 A2.55,2.55 0 0 1 37.13,433.09 Z" fill="#8656be"/><circle cx="42.47" cy="432.60" r="2.55" fill="#d6efd6" stroke="#8a62c4" stroke-width="0.7"/><path d="M39.94,432.30 A2.55,2.55 0 0 1 45.00,432.30 Z" fill="#8656be"/><circle cx="50.34" cy="431.80" r="2.55" fill="#d6efd6" stroke="#8a62c4" stroke-width="0.7"/><path d="M47.80,431.50 A2.55,2.55 0 0 1 52.87,431.50 Z" fill="#8656be"/><circle cx="58.20" cy="430.82" r="2.55" fill="#d6efd6" stroke="#8a62c4" stroke-width="0.7"/><path d="M55.67,430.52 A2.55,2.55 0 0 1 60.73,430.52 Z" fill="#8656be"/><circle cx="66.07" cy="430.02" r="2.55" fill="#d6efd6" stroke="#8a62c4" stroke-width="0.7"/><path d="M63.54,429.72 A2.55,2.55 0 0 1 68.60,429.72 Z" fill="#8656be"/><circle cx="73.94" cy="429.10" r="2.55" fill="#d6efd6" stroke="#8a62c4" stroke-width="0.7"/><path d="M71.41,428.80 A2.55,2.55 0 0 1 76.47,428.80 Z" fill="#8656be"/><circle cx="81.81" cy="427.94" r="2.55" fill="#d6efd6" stroke="#8a62c4" stroke-width="0.7"/><path d="M79.27,427.64 A2.55,2.55 0 0 1 84.34,427.64 Z" fill="#8656be"/><circle cx="89.67" cy="426.83" r="2.55" fill="#d6efd6" stroke="#8a62c4" stroke-width="0.7"/><path d="M87.14,426.53 A2.55,2.55 0 0 1 92.20,426.53 Z" fill="#8656be"/><circle cx="97.54" cy="425.42" r="2.55" fill="#d6efd6" stroke="#8a62c4" stroke-width="0.7"/><path d="M95.01,425.12 A2.55,2.55 0 0 1 100.07,425.12 Z" fill="#8656be"/><circle cx="105.41" cy="423.40" r="2.55" fill="#d6efd6" stroke="#8a62c4" stroke-width="0.7"/><path d="M102.88,423.10 A2.55,2.55 0 0 1 107.94,423.10 Z" fill="#8656be"/><circle cx="113.28" cy="421.68" r="2.55" fill="#d6efd6" stroke="#8a62c4" stroke-width="0.7"/><path d="M110.74,421.38 A2.55,2.55 0 0 1 115.81,421.38 Z" fill="#8656be"/><circle cx="121.14" cy="418.92" r="2.55" fill="#d6efd6" stroke="#8a62c4" stroke-width="0.7"/><path d="M118.61,418.62 A2.55,2.55 0 0 1 123.67,418.62 Z" fill="#8656be"/><circle cx="129.01" cy="415.42" r="2.55" fill="#d6efd6" stroke="#8a62c4" stroke-width="0.7"/><path d="M126.48,415.12 A2.55,2.55 0 0 1 131.54,415.12 Z" fill="#8656be"/><circle cx="136.88" cy="412.17" r="2.55" fill="#d6efd6" stroke="#8a62c4" stroke-width="0.7"/><path d="M134.35,411.87 A2.55,2.55 0 0 1 139.41,411.87 Z" fill="#8656be"/><circle cx="144.75" cy="409.23" r="2.55" fill="#d6efd6" stroke="#8a62c4" stroke-width="0.7"/><path d="M142.21,408.93 A2.55,2.55 0 0 1 147.28,408.93 Z" fill="#8656be"/><circle cx="152.61" cy="405.98" r="2.55" fill="#d6efd6" stroke="#8a62c4" stroke-width="0.7"/><path d="M150.08,405.68 A2.55,2.55 0 0 1 155.14,405.68 Z" fill="#8656be"/><circle cx="160.48" cy="403.10" r="2.55" fill="#d6efd6" stroke="#8a62c4" stroke-width="0.7"/><path d="M157.95,402.80 A2.55,2.55 0 0 1 163.01,402.80 Z" fill="#8656be"/><circle cx="168.35" cy="400.40" r="2.55" fill="#d6efd6" stroke="#8a62c4" stroke-width="0.7"/><path d="M165.82,400.10 A2.55,2.55 0 0 1 170.88,400.10 Z" fill="#8656be"/><circle cx="176.21" cy="397.82" r="2.55" fill="#d6efd6" stroke="#8a62c4" stroke-width="0.7"/><path d="M173.68,397.52 A2.55,2.55 0 0 1 178.75,397.52 Z" fill="#8656be"/><circle cx="184.08" cy="395.43" r="2.55" fill="#d6efd6" stroke="#8a62c4" stroke-width="0.7"/><path d="M181.55,395.13 A2.55,2.55 0 0 1 186.61,395.13 Z" fill="#8656be"/><circle cx="191.95" cy="393.47" r="2.55" fill="#d6efd6" stroke="#8a62c4" stroke-width="0.7"/><path d="M189.42,393.17 A2.55,2.55 0 0 1 194.48,393.17 Z" fill="#8656be"/><circle cx="199.82" cy="391.57" r="2.55" fill="#d6efd6" stroke="#8a62c4" stroke-width="0.7"/><path d="M197.29,391.27 A2.55,2.55 0 0 1 202.35,391.27 Z" fill="#8656be"/><circle cx="207.68" cy="389.30" r="2.55" fill="#d6efd6" stroke="#8a62c4" stroke-width="0.7"/><path d="M205.15,389.00 A2.55,2.55 0 0 1 210.22,389.00 Z" fill="#8656be"/><circle cx="215.55" cy="386.60" r="2.55" fill="#d6efd6" stroke="#8a62c4" stroke-width="0.7"/><path d="M213.02,386.30 A2.55,2.55 0 0 1 218.08,386.30 Z" fill="#8656be"/><circle cx="223.42" cy="384.21" r="2.55" fill="#d6efd6" stroke="#8a62c4" stroke-width="0.7"/><path d="M220.89,383.91 A2.55,2.55 0 0 1 225.95,383.91 Z" fill="#8656be"/><circle cx="231.29" cy="381.81" r="2.55" fill="#d6efd6" stroke="#8a62c4" stroke-width="0.7"/><path d="M228.76,381.51 A2.55,2.55 0 0 1 233.82,381.51 Z" fill="#8656be"/><circle cx="239.16" cy="378.87" r="2.55" fill="#d6efd6" stroke="#8a62c4" stroke-width="0.7"/><path d="M236.62,378.57 A2.55,2.55 0 0 1 241.69,378.57 Z" fill="#8656be"/><circle cx="247.02" cy="376.05" r="2.55" fill="#d6efd6" stroke="#8a62c4" stroke-width="0.7"/><path d="M244.49,375.75 A2.55,2.55 0 0 1 249.55,375.75 Z" fill="#8656be"/><circle cx="254.89" cy="373.10" r="2.55" fill="#d6efd6" stroke="#8a62c4" stroke-width="0.7"/><path d="M252.36,372.80 A2.55,2.55 0 0 1 257.42,372.80 Z" fill="#8656be"/><circle cx="262.76" cy="369.98" r="2.55" fill="#d6efd6" stroke="#8a62c4" stroke-width="0.7"/><path d="M260.23,369.68 A2.55,2.55 0 0 1 265.29,369.68 Z" fill="#8656be"/><circle cx="270.62" cy="366.60" r="2.55" fill="#d6efd6" stroke="#8a62c4" stroke-width="0.7"/><path d="M268.09,366.30 A2.55,2.55 0 0 1 273.16,366.30 Z" fill="#8656be"/><circle cx="278.49" cy="363.47" r="2.55" fill="#d6efd6" stroke="#8a62c4" stroke-width="0.7"/><path d="M275.96,363.17 A2.55,2.55 0 0 1 281.02,363.17 Z" fill="#8656be"/><circle cx="286.36" cy="360.71" r="2.55" fill="#d6efd6" stroke="#8a62c4" stroke-width="0.7"/><path d="M283.83,360.41 A2.55,2.55 0 0 1 288.89,360.41 Z" fill="#8656be"/><circle cx="294.23" cy="357.71" r="2.55" fill="#d6efd6" stroke="#8a62c4" stroke-width="0.7"/><path d="M291.70,357.41 A2.55,2.55 0 0 1 296.76,357.41 Z" fill="#8656be"/><circle cx="302.10" cy="355.62" r="2.55" fill="#d6efd6" stroke="#8a62c4" stroke-width="0.7"/><path d="M299.56,355.32 A2.55,2.55 0 0 1 304.63,355.32 Z" fill="#8656be"/><circle cx="309.96" cy="353.48" r="2.55" fill="#d6efd6" stroke="#8a62c4" stroke-width="0.7"/><path d="M307.43,353.18 A2.55,2.55 0 0 1 312.49,353.18 Z" fill="#8656be"/><circle cx="317.83" cy="351.82" r="2.55" fill="#d6efd6" stroke="#8a62c4" stroke-width="0.7"/><path d="M315.30,351.52 A2.55,2.55 0 0 1 320.36,351.52 Z" fill="#8656be"/><circle cx="325.70" cy="350.53" r="2.55" fill="#d6efd6" stroke="#8a62c4" stroke-width="0.7"/><path d="M323.17,350.23 A2.55,2.55 0 0 1 328.23,350.23 Z" fill="#8656be"/><circle cx="333.57" cy="349.61" r="2.55" fill="#d6efd6" stroke="#8a62c4" stroke-width="0.7"/><path d="M331.03,349.31 A2.55,2.55 0 0 1 336.10,349.31 Z" fill="#8656be"/><circle cx="341.43" cy="349.06" r="2.55" fill="#d6efd6" stroke="#8a62c4" stroke-width="0.7"/><path d="M338.90,348.76 A2.55,2.55 0 0 1 343.96,348.76 Z" fill="#8656be"/><circle cx="349.30" cy="348.88" r="2.55" fill="#d6efd6" stroke="#8a62c4" stroke-width="0.7"/><path d="M346.77,348.58 A2.55,2.55 0 0 1 351.83,348.58 Z" fill="#8656be"/></g>
<rect x="34.6" y="344.0" width="314.7" height="92.0" fill="none" stroke="#111" stroke-width="1.45"/>
<text x="29.80" y="438.90" text-anchor="end">0</text>
<text x="29.80" y="420.50" text-anchor="end">300</text>
<text x="29.80" y="402.10" text-anchor="end">600</text>
<text x="29.80" y="383.70" text-anchor="end">900</text>
<text x="29.80" y="365.30" text-anchor="end">1200</text>
<text x="29.80" y="346.90" text-anchor="end">1500</text>
<path d="M34.60,436.00h4.3 M34.60,426.80h2.3 M34.60,417.60h4.3 M34.60,408.40h2.3 M34.60,399.20h4.3 M34.60,390.00h2.3 M34.60,380.80h4.3 M34.60,371.60h2.3 M34.60,362.40h4.3 M34.60,353.20h2.3 M34.60,344.00h4.3 M34.60,436.00v-4.3 M73.94,436.00v-2.3 M113.28,436.00v-4.3 M152.61,436.00v-2.3 M191.95,436.00v-4.3 M231.29,436.00v-2.3 M270.62,436.00v-4.3 M309.96,436.00v-2.3 M349.30,436.00v-4.3" stroke="#111" stroke-width="1.1" fill="none"/>
<rect x="40.50" y="348.40" width="21.2" height="10.0" fill="url(#s3)" stroke="#93b893" stroke-width="0.8"/>
<text x="65.00" y="356.80">Eastern hub(BS)</text>
<text x="34.60" y="447.6" text-anchor="middle">2020</text>
<text x="113.28" y="447.6" text-anchor="middle">2030</text>
<text x="191.95" y="447.6" text-anchor="middle">2040</text>
<text x="270.62" y="447.6" text-anchor="middle">2050</text>
<text x="349.30" y="447.6" text-anchor="middle">2060</text>
<text x="192.45" y="456.6" text-anchor="middle">Year</text>
<text transform="translate(7.1,231.6) rotate(-90)" text-anchor="middle" font-size="9.75">Carbon emissions (MT)</text>
<text x="0.6" y="8.9" font-weight="bold" font-size="12.2" style="stroke:none">a</text>
<text x="359.6" y="8.9" font-weight="bold" font-size="12.2" style="stroke:none">b</text>
<path d="M395.2,189.15 H683.5" fill="none" stroke="#b4b4b4" stroke-width="1.1"/>
<rect x="404.21" y="186.99" width="20.25" height="1.61" fill="#fcc4a6" stroke="#333" stroke-opacity="0.55" stroke-width="0.6"/>
<rect x="404.21" y="185.05" width="20.25" height="1.94" fill="#f3c0c7" stroke="#333" stroke-opacity="0.55" stroke-width="0.6"/>
<rect x="404.21" y="184.51" width="20.25" height="0.54" fill="#deedd6" stroke="#333" stroke-opacity="0.55" stroke-width="0.6"/>
<rect x="404.21" y="184.09" width="20.25" height="0.43" fill="#b6e3c3" stroke="#333" stroke-opacity="0.55" stroke-width="0.6"/>
<text x="414.60" y="181.70" text-anchor="middle">E</text>
<rect x="424.46" y="188.49" width="20.25" height="0.11" fill="#b2d5f1" stroke="#333" stroke-opacity="0.55" stroke-width="0.6"/>
<rect x="424.46" y="188.33" width="20.25" height="0.16" fill="#b3b6dd" stroke="#333" stroke-opacity="0.55" stroke-width="0.6"/>
<rect x="424.46" y="188.22" width="20.25" height="0.11" fill="#fdf3be" stroke="#333" stroke-opacity="0.55" stroke-width="0.6"/>
<rect x="424.46" y="188.12" width="20.25" height="0.11" fill="#cdeaf2" stroke="#333" stroke-opacity="0.55" stroke-width="0.6"/>
<rect x="424.46" y="187.70" width="20.25" height="1.2" fill="#2a2a2a"/>
<text x="435.50" y="185.90" text-anchor="middle">W</text>
<rect x="461.92" y="177.20" width="20.25" height="11.40" fill="#fcc4a6" stroke="#333" stroke-opacity="0.55" stroke-width="0.6"/>
<rect x="461.92" y="167.10" width="20.25" height="10.10" fill="#f3c0c7" stroke="#333" stroke-opacity="0.55" stroke-width="0.6"/>
<rect x="461.92" y="163.77" width="20.25" height="3.33" fill="#deedd6" stroke="#333" stroke-opacity="0.55" stroke-width="0.6"/>
<rect x="461.92" y="163.12" width="20.25" height="0.64" fill="#b6e3c3" stroke="#333" stroke-opacity="0.55" stroke-width="0.6"/>
<text x="472.00" y="158.30" text-anchor="middle">E</text>
<rect x="482.17" y="186.66" width="20.25" height="1.94" fill="#b2d5f1" stroke="#333" stroke-opacity="0.55" stroke-width="0.6"/>
<rect x="482.17" y="184.62" width="20.25" height="2.04" fill="#b3b6dd" stroke="#333" stroke-opacity="0.55" stroke-width="0.6"/>
<rect x="482.17" y="184.30" width="20.25" height="0.32" fill="#fdf3be" stroke="#333" stroke-opacity="0.55" stroke-width="0.6"/>
<rect x="482.17" y="184.09" width="20.25" height="0.21" fill="#cdeaf2" stroke="#333" stroke-opacity="0.55" stroke-width="0.6"/>
<text x="491.80" y="180.40" text-anchor="middle">W</text>
<rect x="519.63" y="156.46" width="20.25" height="32.14" fill="#fcc4a6" stroke="#333" stroke-opacity="0.55" stroke-width="0.6"/>
<rect x="519.63" y="125.17" width="20.25" height="31.28" fill="#f3c0c7" stroke="#333" stroke-opacity="0.55" stroke-width="0.6"/>
<rect x="519.63" y="115.61" width="20.25" height="9.57" fill="#deedd6" stroke="#333" stroke-opacity="0.55" stroke-width="0.6"/>
<rect x="519.63" y="113.56" width="20.25" height="2.04" fill="#b6e3c3" stroke="#333" stroke-opacity="0.55" stroke-width="0.6"/>
<text x="530.40" y="109.60" text-anchor="middle">E</text>
<rect x="539.88" y="185.20" width="20.25" height="3.40" fill="#b2d5f1" stroke="#333" stroke-opacity="0.55" stroke-width="0.6"/>
<rect x="539.88" y="176.51" width="20.25" height="8.70" fill="#b3b6dd" stroke="#333" stroke-opacity="0.55" stroke-width="0.6"/>
<rect x="539.88" y="175.70" width="20.25" height="0.81" fill="#fdf3be" stroke="#333" stroke-opacity="0.55" stroke-width="0.6"/>
<rect x="539.88" y="174.30" width="20.25" height="1.40" fill="#cdeaf2" stroke="#333" stroke-opacity="0.55" stroke-width="0.6"/>
<text x="551.00" y="172.90" text-anchor="middle">W</text>
<rect x="577.34" y="136.25" width="20.25" height="52.35" fill="#fcc4a6" stroke="#333" stroke-opacity="0.55" stroke-width="0.6"/>
<rect x="577.34" y="84.32" width="20.25" height="51.92" fill="#f3c0c7" stroke="#333" stroke-opacity="0.55" stroke-width="0.6"/>
<rect x="577.34" y="69.38" width="20.25" height="14.94" fill="#deedd6" stroke="#333" stroke-opacity="0.55" stroke-width="0.6"/>
<rect x="577.34" y="66.16" width="20.25" height="3.22" fill="#b6e3c3" stroke="#333" stroke-opacity="0.55" stroke-width="0.6"/>
<text x="588.40" y="64.30" text-anchor="middle">E</text>
<rect x="597.59" y="182.47" width="20.25" height="6.13" fill="#b2d5f1" stroke="#333" stroke-opacity="0.55" stroke-width="0.6"/>
<rect x="597.59" y="169.25" width="20.25" height="13.22" fill="#b3b6dd" stroke="#333" stroke-opacity="0.55" stroke-width="0.6"/>
<rect x="597.59" y="166.78" width="20.25" height="2.47" fill="#fdf3be" stroke="#333" stroke-opacity="0.55" stroke-width="0.6"/>
<rect x="597.59" y="165.38" width="20.25" height="1.40" fill="#cdeaf2" stroke="#333" stroke-opacity="0.55" stroke-width="0.6"/>
<text x="608.50" y="164.30" text-anchor="middle">W</text>
<rect x="635.05" y="123.13" width="20.25" height="65.47" fill="#fcc4a6" stroke="#333" stroke-opacity="0.55" stroke-width="0.6"/>
<rect x="635.05" y="58.63" width="20.25" height="64.50" fill="#f3c0c7" stroke="#333" stroke-opacity="0.55" stroke-width="0.6"/>
<rect x="635.05" y="39.50" width="20.25" height="19.13" fill="#deedd6" stroke="#333" stroke-opacity="0.55" stroke-width="0.6"/>
<rect x="635.05" y="36.16" width="20.25" height="3.33" fill="#b6e3c3" stroke="#333" stroke-opacity="0.55" stroke-width="0.6"/>
<text x="646.00" y="33.70" text-anchor="middle">E</text>
<rect x="655.30" y="180.64" width="20.25" height="7.96" fill="#b2d5f1" stroke="#333" stroke-opacity="0.55" stroke-width="0.6"/>
<rect x="655.30" y="164.41" width="20.25" height="16.23" fill="#b3b6dd" stroke="#333" stroke-opacity="0.55" stroke-width="0.6"/>
<rect x="655.30" y="161.72" width="20.25" height="2.69" fill="#fdf3be" stroke="#333" stroke-opacity="0.55" stroke-width="0.6"/>
<rect x="655.30" y="159.36" width="20.25" height="2.37" fill="#cdeaf2" stroke="#333" stroke-opacity="0.55" stroke-width="0.6"/>
<text x="664.90" y="156.80" text-anchor="middle">W</text>
<path d="M395.2,188.6 V16.6 H683.5" fill="none" stroke="#555" stroke-width="1"/>
<path d="M683.5,16.1 V188.6" fill="none" stroke="#9a9a9a" stroke-width="1"/>
<text x="390.90" y="191.90" text-anchor="end">0</text>
<text x="390.90" y="170.40" text-anchor="end">200</text>
<text x="390.90" y="148.90" text-anchor="end">400</text>
<text x="390.90" y="127.40" text-anchor="end">600</text>
<text x="390.90" y="105.90" text-anchor="end">800</text>
<text x="390.90" y="84.40" text-anchor="end">1000</text>
<text x="390.90" y="62.90" text-anchor="end">1200</text>
<text x="390.90" y="41.40" text-anchor="end">1400</text>
<text x="390.90" y="19.90" text-anchor="end">1600</text>
<path d="M395.2,188.60h3.6 M395.2,177.85h1.8 M395.2,167.10h3.6 M395.2,156.35h1.8 M395.2,145.60h3.6 M395.2,134.85h1.8 M395.2,124.10h3.6 M395.2,113.35h1.8 M395.2,102.60h3.6 M395.2,91.85h1.8 M395.2,81.10h3.6 M395.2,70.35h1.8 M395.2,59.60h3.6 M395.2,48.85h1.8 M395.2,38.10h3.6 M395.2,27.35h1.8 M395.2,16.60h3.6" stroke="#555" stroke-width="0.9" fill="none"/>
<path d="M395.2,378.95 H684.4" fill="none" stroke="#b4b4b4" stroke-width="1.1"/>
<rect x="404.21" y="365.61" width="20.25" height="12.79" fill="#fcc4a6" stroke="#333" stroke-opacity="0.55" stroke-width="0.6"/>
<rect x="404.21" y="352.43" width="20.25" height="13.19" fill="#f3c0c7" stroke="#333" stroke-opacity="0.55" stroke-width="0.6"/>
<rect x="404.21" y="348.59" width="20.25" height="3.84" fill="#deedd6" stroke="#333" stroke-opacity="0.55" stroke-width="0.6"/>
<rect x="404.21" y="347.50" width="20.25" height="1.09" fill="#b6e3c3" stroke="#333" stroke-opacity="0.55" stroke-width="0.6"/>
<text x="414.50" y="344.50" text-anchor="middle">E</text>
<rect x="424.46" y="376.51" width="20.25" height="1.89" fill="#b2d5f1" stroke="#333" stroke-opacity="0.55" stroke-width="0.6"/>
<rect x="424.46" y="374.62" width="20.25" height="1.89" fill="#b3b6dd" stroke="#333" stroke-opacity="0.55" stroke-width="0.6"/>
<rect x="424.46" y="373.99" width="20.25" height="0.63" fill="#fdf3be" stroke="#333" stroke-opacity="0.55" stroke-width="0.6"/>
<rect x="424.46" y="373.24" width="20.25" height="0.75" fill="#cdeaf2" stroke="#333" stroke-opacity="0.55" stroke-width="0.6"/>
<text x="434.80" y="369.60" text-anchor="middle">W</text>
<rect x="461.92" y="347.10" width="20.25" height="31.30" fill="#fcc4a6" stroke="#333" stroke-opacity="0.55" stroke-width="0.6"/>
<rect x="461.92" y="316.48" width="20.25" height="30.62" fill="#f3c0c7" stroke="#333" stroke-opacity="0.55" stroke-width="0.6"/>
<rect x="461.92" y="308.45" width="20.25" height="8.03" fill="#deedd6" stroke="#333" stroke-opacity="0.55" stroke-width="0.6"/>
<rect x="461.92" y="301.69" width="20.25" height="6.77" fill="#b6e3c3" stroke="#333" stroke-opacity="0.55" stroke-width="0.6"/>
<text x="472.40" y="298.50" text-anchor="middle">E</text>
<rect x="482.17" y="362.40" width="20.25" height="16.00" fill="#b2d5f1" stroke="#333" stroke-opacity="0.55" stroke-width="0.6"/>
<rect x="482.17" y="337.29" width="20.25" height="25.11" fill="#b3b6dd" stroke="#333" stroke-opacity="0.55" stroke-width="0.6"/>
<rect x="482.17" y="309.60" width="20.25" height="27.69" fill="#fdf3be" stroke="#333" stroke-opacity="0.55" stroke-width="0.6"/>
<rect x="482.17" y="300.71" width="20.25" height="8.89" fill="#cdeaf2" stroke="#333" stroke-opacity="0.55" stroke-width="0.6"/>
<text x="491.60" y="298.00" text-anchor="middle">W</text>
<rect x="519.63" y="318.49" width="20.25" height="59.91" fill="#fcc4a6" stroke="#333" stroke-opacity="0.55" stroke-width="0.6"/>
<rect x="519.63" y="259.72" width="20.25" height="58.77" fill="#f3c0c7" stroke="#333" stroke-opacity="0.55" stroke-width="0.6"/>
<rect x="519.63" y="243.38" width="20.25" height="16.34" fill="#deedd6" stroke="#333" stroke-opacity="0.55" stroke-width="0.6"/>
<rect x="519.63" y="234.21" width="20.25" height="9.17" fill="#b6e3c3" stroke="#333" stroke-opacity="0.55" stroke-width="0.6"/>
<text x="529.70" y="231.90" text-anchor="middle">E</text>
<rect x="539.88" y="352.08" width="20.25" height="26.32" fill="#b2d5f1" stroke="#333" stroke-opacity="0.55" stroke-width="0.6"/>
<rect x="539.88" y="298.13" width="20.25" height="53.95" fill="#b3b6dd" stroke="#333" stroke-opacity="0.55" stroke-width="0.6"/>
<rect x="539.88" y="259.72" width="20.25" height="38.41" fill="#fdf3be" stroke="#333" stroke-opacity="0.55" stroke-width="0.6"/>
<rect x="539.88" y="247.16" width="20.25" height="12.56" fill="#cdeaf2" stroke="#333" stroke-opacity="0.55" stroke-width="0.6"/>
<text x="551.00" y="244.40" text-anchor="middle">W</text>
<rect x="577.34" y="316.59" width="20.25" height="61.81" fill="#fcc4a6" stroke="#333" stroke-opacity="0.55" stroke-width="0.6"/>
<rect x="577.34" y="253.81" width="20.25" height="62.78" fill="#f3c0c7" stroke="#333" stroke-opacity="0.55" stroke-width="0.6"/>
<rect x="577.34" y="235.18" width="20.25" height="18.63" fill="#deedd6" stroke="#333" stroke-opacity="0.55" stroke-width="0.6"/>
<rect x="577.34" y="228.30" width="20.25" height="6.88" fill="#b6e3c3" stroke="#333" stroke-opacity="0.55" stroke-width="0.6"/>
<text x="588.40" y="225.90" text-anchor="middle">E</text>
<rect x="597.59" y="355.41" width="20.25" height="22.99" fill="#b2d5f1" stroke="#333" stroke-opacity="0.55" stroke-width="0.6"/>
<rect x="597.59" y="291.08" width="20.25" height="64.33" fill="#b3b6dd" stroke="#333" stroke-opacity="0.55" stroke-width="0.6"/>
<rect x="597.59" y="261.27" width="20.25" height="29.81" fill="#fdf3be" stroke="#333" stroke-opacity="0.55" stroke-width="0.6"/>
<rect x="597.59" y="252.27" width="20.25" height="9.00" fill="#cdeaf2" stroke="#333" stroke-opacity="0.55" stroke-width="0.6"/>
<text x="607.80" y="250.20" text-anchor="middle">W</text>
<rect x="635.05" y="329.61" width="20.25" height="48.79" fill="#fcc4a6" stroke="#333" stroke-opacity="0.55" stroke-width="0.6"/>
<rect x="635.05" y="278.47" width="20.25" height="51.14" fill="#f3c0c7" stroke="#333" stroke-opacity="0.55" stroke-width="0.6"/>
<rect x="635.05" y="262.30" width="20.25" height="16.17" fill="#deedd6" stroke="#333" stroke-opacity="0.55" stroke-width="0.6"/>
<rect x="635.05" y="258.11" width="20.25" height="4.19" fill="#b6e3c3" stroke="#333" stroke-opacity="0.55" stroke-width="0.6"/>
<text x="646.20" y="255.20" text-anchor="middle">E</text>
<rect x="655.30" y="363.61" width="20.25" height="14.79" fill="#b2d5f1" stroke="#333" stroke-opacity="0.55" stroke-width="0.6"/>
<rect x="655.30" y="305.47" width="20.25" height="58.14" fill="#b3b6dd" stroke="#333" stroke-opacity="0.55" stroke-width="0.6"/>
<rect x="655.30" y="287.58" width="20.25" height="17.89" fill="#fdf3be" stroke="#333" stroke-opacity="0.55" stroke-width="0.6"/>
<rect x="655.30" y="281.97" width="20.25" height="5.62" fill="#cdeaf2" stroke="#333" stroke-opacity="0.55" stroke-width="0.6"/>
<text x="666.30" y="278.40" text-anchor="middle">W</text>
<path d="M395.2,378.4 V206.4 H684.4" fill="none" stroke="#444" stroke-width="1"/>
<path d="M684.4,205.9 V378.4" fill="none" stroke="#444" stroke-width="1"/>
<text x="390.90" y="381.70" text-anchor="end">0</text>
<text x="390.90" y="347.30" text-anchor="end">60</text>
<text x="390.90" y="312.90" text-anchor="end">120</text>
<text x="390.90" y="278.50" text-anchor="end">180</text>
<text x="390.90" y="244.10" text-anchor="end">240</text>
<text x="390.90" y="209.70" text-anchor="end">300</text>
<rect x="452.71" y="377.50" width="1.2" height="1.6" fill="#222"/>
<rect x="510.42" y="377.50" width="1.2" height="1.6" fill="#222"/>
<rect x="568.13" y="377.50" width="1.2" height="1.6" fill="#222"/>
<rect x="625.84" y="377.50" width="1.2" height="1.6" fill="#222"/>
<path d="M395.2,378.40h3.6 M395.2,361.20h1.8 M395.2,344.00h3.6 M395.2,326.80h1.8 M395.2,309.60h3.6 M395.2,292.40h1.8 M395.2,275.20h3.6 M395.2,258.00h1.8 M395.2,240.80h3.6 M395.2,223.60h1.8 M395.2,206.40h3.6" stroke="#444" stroke-width="0.9" fill="none"/>
<text x="424.46" y="389.4" text-anchor="middle">2020</text>
<text x="482.17" y="389.4" text-anchor="middle">2030</text>
<text x="539.88" y="389.4" text-anchor="middle">2040</text>
<text x="597.59" y="389.4" text-anchor="middle">2050</text>
<text x="655.30" y="389.4" text-anchor="middle">2060</text>
<text x="539.50" y="399.2" text-anchor="middle">Year</text>
<text transform="translate(368.2,231.8) rotate(-90)" text-anchor="middle" font-size="9.75">Carbon emissions (MT)</text>
<rect x="365.30" y="408.80" width="12.6" height="9.6" fill="#fcc4a6" stroke="#8a8a8a" stroke-width="0.6"/>
<text x="381.10" y="417.10">Beijing-Tianjin-Hebei hub</text>
<rect x="535.80" y="408.80" width="12.6" height="9.6" fill="#f3c0c7" stroke="#8a8a8a" stroke-width="0.6"/>
<text x="551.60" y="417.10">Yangtze River Delta hub</text>
<rect x="365.30" y="420.65" width="12.6" height="9.6" fill="#deedd6" stroke="#8a8a8a" stroke-width="0.6"/>
<text x="381.10" y="428.95">Guangdong-Hong Kong-Macao hub</text>
<rect x="535.80" y="420.65" width="12.6" height="9.6" fill="#b6e3c3" stroke="#8a8a8a" stroke-width="0.6"/>
<text x="551.60" y="428.95">Chengdu-Chongqing hub</text>
<rect x="365.30" y="432.50" width="12.6" height="9.6" fill="#b2d5f1" stroke="#8a8a8a" stroke-width="0.6"/>
<text x="381.10" y="440.80">Guizhou hub</text>
<rect x="535.80" y="432.50" width="12.6" height="9.6" fill="#b3b6dd" stroke="#8a8a8a" stroke-width="0.6"/>
<text x="551.60" y="440.80">Inner Mongolia hub</text>
<rect x="365.30" y="444.35" width="12.6" height="9.6" fill="#fdf3be" stroke="#8a8a8a" stroke-width="0.6"/>
<text x="381.10" y="452.65">Gansu hub</text>
<rect x="535.80" y="444.35" width="12.6" height="9.6" fill="#cdeaf2" stroke="#8a8a8a" stroke-width="0.6"/>
<text x="551.60" y="452.65">Ningxia hub</text></svg>
</body></html>
